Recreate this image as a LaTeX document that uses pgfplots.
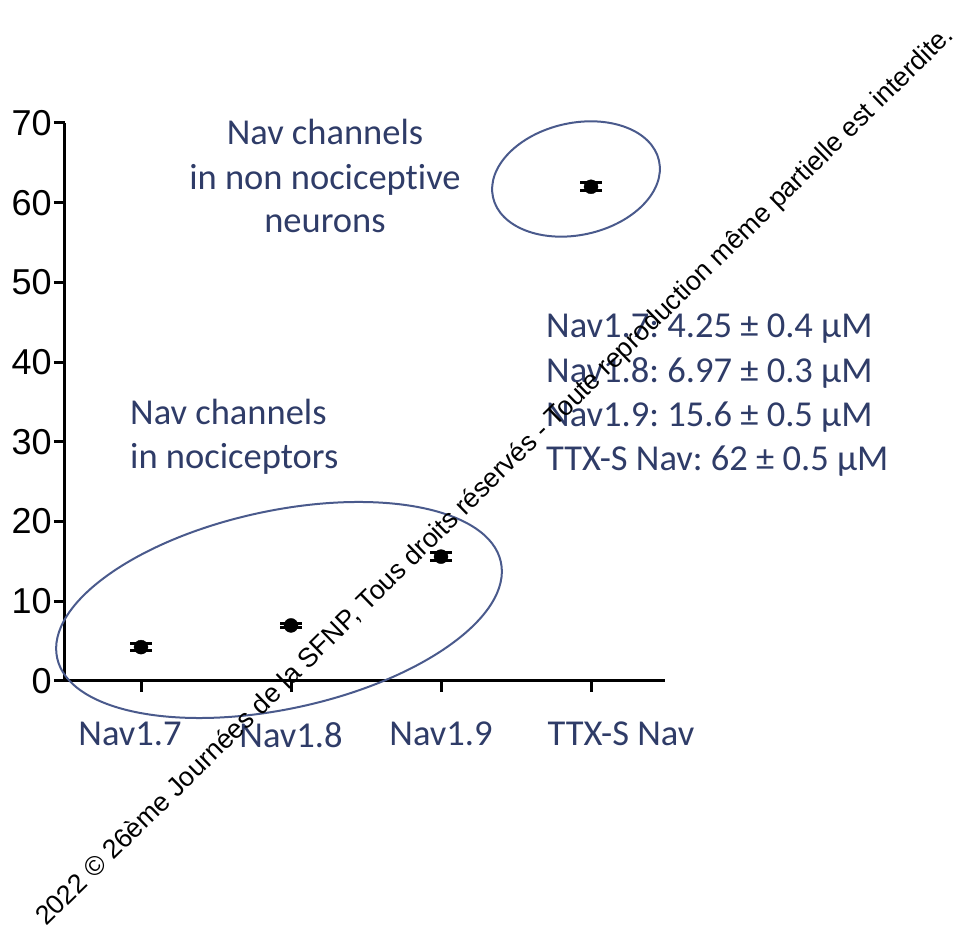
\documentclass[border=0pt]{standalone}
\usepackage{pgfplots}
\pgfplotsset{compat=1.18}
\usepackage{fontspec}
\setmainfont{Liberation Sans}
\newfontfamily\calfont[Ligatures=NoCommon]{Carlito}
\definecolor{navtext}{HTML}{2F3C68}
\definecolor{ring}{HTML}{4A5A8C}
\frenchspacing

\pgfplotstableread{
x  y     err
0  4.25  0.4
1  6.97  0.3
2  15.6  0.5
3  62    0.5
}\ictable

\begin{document}
\begin{tikzpicture}
\useasboundingbox (0pt,0pt) rectangle (963pt,933pt);
\begin{axis}[
  at={(141pt,252pt)}, anchor=origin,
  scale only axis, width=600pt, height=558pt,
  xmin=-0.507, xmax=3.493, ymin=0, ymax=70,
  axis x line*=bottom, axis y line*=left,
  axis line style={line width=3pt, -},
  xtick={0,1,2,3},
  xticklabels={\hspace{-22pt}Nav1.7, Nav1.8, Nav1.9, \hspace{60pt}TTX-S Nav},
  ytick={0,10,...,70},
  tick align=outside, major tick length=11pt,
  tick style={line width=3pt, black},
  /pgf/number format/assume math mode=true,
  yticklabel style={font=\fontsize{36}{36}\selectfont, inner sep=0pt, xshift=-2pt},
  xticklabel style={font=\calfont\fontsize{36.5}{36.5}\selectfont, text=navtext, inner sep=0pt, yshift=-30pt},
  clip=false,
]
\addplot+[only marks, black, mark=*, mark size=7pt,
  mark options={fill=black, draw=black},
  error bars/.cd, y dir=both, y explicit,
  error mark=|, error mark options={black, mark size=11pt, line width=3pt},
  error bar style={black, line width=3pt}]
  table[x=x, y=y, y error=err] {\ictable};
\end{axis}

% group outlines
\draw[ring, line width=2pt, rotate around={12.2:(279pt,323pt)}] (279pt,323pt) ellipse [x radius=227pt, y radius=99pt];
\draw[ring, line width=2pt, rotate around={12.4:(576pt,754pt)}] (576pt,754pt) ellipse [x radius=85pt, y radius=56pt];

% annotations
\begin{scope}[every node/.style={inner sep=0pt, text=navtext, font=\calfont\fontsize{36.5}{36.5}\selectfont}]
\node[anchor=base] at (325pt,788pt) {Nav channels};
\node[anchor=base] at (325pt,743pt) {in non nociceptive};
\node[anchor=base] at (325pt,700pt) {neurons};
\node[anchor=base west] at (130pt,508pt) {Nav channels};
\node[anchor=base west] at (130pt,464pt) {in nociceptors};
\node[anchor=base west] at (546pt,595pt) {Nav1.7: 4.25 ± 0.4 µM};
\node[anchor=base west] at (546pt,550pt) {Nav1.8: 6.97 ± 0.3 µM};
\node[anchor=base west] at (546pt,506pt) {Nav1.9: 15.6 ± 0.5 µM};
\node[anchor=base west] at (546pt,462pt) {TTX-S Nav: 62 ± 0.5 µM};
\end{scope}

% copyright line
\node[anchor=base west, inner sep=0pt, rotate=44.4, font=\fontsize{26.8}{26.8}\selectfont]
  at (46pt,6pt) {2022 © 26ème Journées de la SFNP, Tous droits réservés - Toute reproduction même partielle est interdite.};
\end{tikzpicture}
\end{document}
